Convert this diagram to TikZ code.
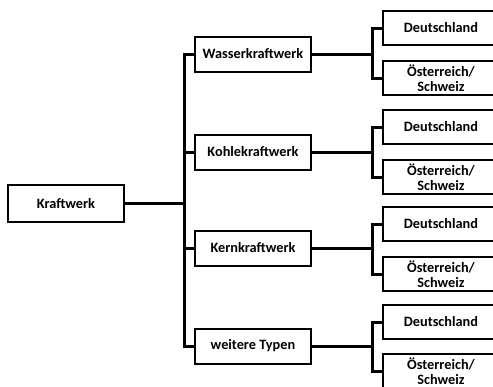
\documentclass[tikz,border=0pt]{standalone}
\usepackage{fontspec}
\setmainfont{Carlito}
\usetikzlibrary{calc}
\begin{document}
\begin{tikzpicture}[x=1pt,y=-1pt,
  box/.style={draw,line width=2pt,rectangle,inner sep=0pt,
    minimum width=116pt,minimum height=35pt,align=center,
    font=\fontsize{14.3}{14.5}\selectfont\bfseries},
  leaf/.style={box,minimum height=34pt},
  link/.style={line width=3pt}]
\useasboundingbox (0,0) rectangle (493,386);
\clip (0,0) rectangle (493,386);

% root
\node[box,minimum height=37pt] (root) at (66,203.5) {Kraftwerk};

% power plant types
\node[box] (m1) at (253,54)  {Wasserkraftwerk};
\node[box] (m2) at (253,152) {Kohlekraftwerk};
\node[box] (m3) at (253,248) {Kernkraftwerk};
\node[box] (m4) at (253,346) {weitere Typen};

% regions
\node[leaf] (d1) at (441,28)  {Deutschland};
\node[leaf] (o1) at (441,78)  {Österreich/\\Schweiz};
\node[leaf] (d2) at (441,127) {Deutschland};
\node[leaf] (o2) at (441,177) {Österreich/\\Schweiz};
\node[leaf] (d3) at (441,224) {Deutschland};
\node[leaf] (o3) at (441,274) {Österreich/\\Schweiz};
\node[leaf] (d4) at (441,322) {Deutschland};
\node[leaf] (o4) at (441,371) {Österreich/\\Schweiz};

% trunk from the root to the types
\coordinate (trunk) at (184,203.5);
\draw[link] (root.east) -- (trunk);
\foreach \m in {m1,m2,m3,m4}
  \draw[link] (trunk) |- (\m.west);

% forks from each type to its regions
\foreach \i in {1,2,3,4} {
  \coordinate (f\i) at ($(d\i.west)!0.5!(o\i.west) + (-10,0)$);
  \draw[link] (m\i.east) -- (f\i |- m\i.east);
  \draw[link] (f\i) |- (d\i.west);
  \draw[link] (f\i) |- (o\i.west);
}
\end{tikzpicture}
\end{document}
